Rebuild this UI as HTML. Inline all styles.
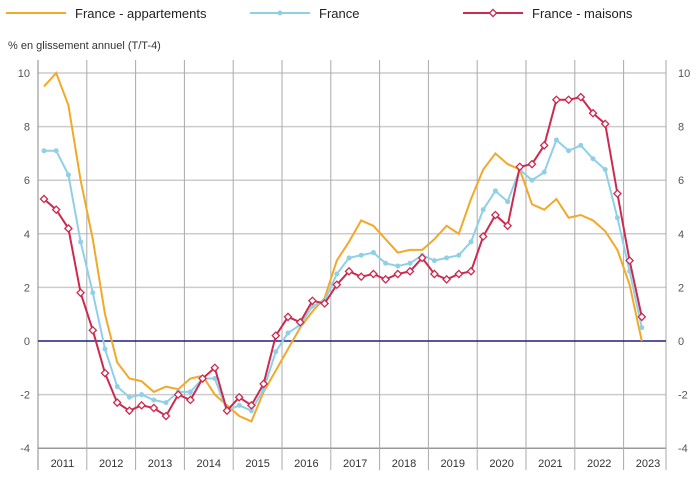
<!DOCTYPE html>
<html><head><meta charset="utf-8"><style>
body{margin:0;background:#fff}
svg{display:block;font-family:"Liberation Sans",sans-serif}
</style></head><body>
<svg width="700" height="485" xmlns="http://www.w3.org/2000/svg">
<g id="g"></g>
<script>
const NS="http://www.w3.org/2000/svg";
const g=document.getElementById('g');
function el(t,a,txt){const e=document.createElementNS(NS,t);for(const k in a)e.setAttribute(k,a[k]);if(txt!==undefined)e.textContent=txt;g.appendChild(e);return e;}
const Y=v=>341-v*26.8, X=i=>44+i*12.2;
for(let v=-4;v<=10;v+=2){
 el('line',{x1:38,x2:666,y1:Y(v),y2:Y(v),stroke:v==-4?'#999':'#ccc','stroke-width':1.5});
 el('text',{x:30,y:Y(v)+4,'text-anchor':'end','font-size':11,fill:'#555'},v);
 el('text',{x:678,y:Y(v)+4,'font-size':11,fill:'#555'},v);
}
for(let k=0;k<=12;k++){
 const x=38+48.8*k;
 el('line',{x1:x,x2:x,y1:60,y2:470,stroke:k==0?'#888':'#aaa','stroke-width':1});
 el('text',{x:x+24.4,y:467,'text-anchor':'middle','font-size':11,fill:'#333'},2011+k);
}
el('line',{x1:666,x2:666,y1:60,y2:470,stroke:'#aaa','stroke-width':1});
el('line',{x1:38,x2:666,y1:Y(0),y2:Y(0),stroke:'#000080','stroke-width':1.3});
el('text',{x:8,y:49,'font-size':11,fill:'#333'},'% en glissement annuel (T/T-4)');
const app=[9.5,10,8.8,6.0,3.8,1.0,-0.8,-1.4,-1.5,-1.9,-1.7,-1.8,-1.4,-1.3,-2.0,-2.4,-2.8,-3.0,-1.9,-1.1,-0.3,0.5,1.1,1.6,3.0,3.7,4.5,4.3,3.8,3.3,3.4,3.4,3.8,4.3,4.0,5.3,6.4,7.0,6.6,6.4,5.1,4.9,5.3,4.6,4.7,4.5,4.1,3.4,2.1,0.0];
const fr=[7.1,7.1,6.2,3.7,1.8,-0.3,-1.7,-2.1,-2.0,-2.2,-2.3,-1.9,-1.9,-1.4,-1.4,-2.6,-2.4,-2.6,-1.8,-0.4,0.3,0.6,1.3,1.5,2.5,3.1,3.2,3.3,2.9,2.8,2.9,3.2,3.0,3.1,3.2,3.7,4.9,5.6,5.2,6.4,6.0,6.3,7.5,7.1,7.3,6.8,6.4,4.6,2.6,0.5];
const ma=[5.3,4.9,4.2,1.8,0.4,-1.2,-2.3,-2.6,-2.4,-2.5,-2.8,-2.0,-2.2,-1.4,-1.0,-2.6,-2.1,-2.4,-1.6,0.2,0.9,0.7,1.5,1.4,2.1,2.6,2.4,2.5,2.3,2.5,2.6,3.1,2.5,2.3,2.5,2.6,3.9,4.7,4.3,6.5,6.6,7.3,9.0,9.0,9.1,8.5,8.1,5.5,3.0,0.9];
const pts=a=>a.map((v,i)=>X(i).toFixed(1)+','+Y(v).toFixed(1)).join(' ');
el('polyline',{points:pts(app),fill:'none',stroke:'#f2a92a','stroke-width':2});
el('polyline',{points:pts(fr),fill:'none',stroke:'#8fd0e6','stroke-width':2});
fr.forEach((v,i)=>el('circle',{cx:X(i),cy:Y(v),r:2.5,fill:'#8fd0e6'}));
el('polyline',{points:pts(ma),fill:'none',stroke:'#cc2a4f','stroke-width':2});
ma.forEach((v,i)=>el('rect',{x:X(i)-2.5,y:Y(v)-2.5,width:5,height:5,fill:'#fff',stroke:'#cc2a4f','stroke-width':1.3,transform:`rotate(45 ${X(i)} ${Y(v)})`}));
el('line',{x1:6,x2:66,y1:13,y2:13,stroke:'#f2a92a','stroke-width':2});
el('text',{x:75,y:18,'font-size':13,fill:'#222'},'France - appartements');
el('line',{x1:250,x2:310,y1:13,y2:13,stroke:'#8fd0e6','stroke-width':2});
el('circle',{cx:280,cy:13,r:2.5,fill:'#8fd0e6'});
el('text',{x:319,y:18,'font-size':13,fill:'#222'},'France');
el('line',{x1:463,x2:523,y1:13,y2:13,stroke:'#cc2a4f','stroke-width':2});
el('rect',{x:490.5,y:10.5,width:5,height:5,fill:'#fff',stroke:'#cc2a4f','stroke-width':1.3,transform:'rotate(45 493 13)'});
el('text',{x:532,y:18,'font-size':13,fill:'#222'},'France - maisons');
</script>
</svg>
</body></html>
